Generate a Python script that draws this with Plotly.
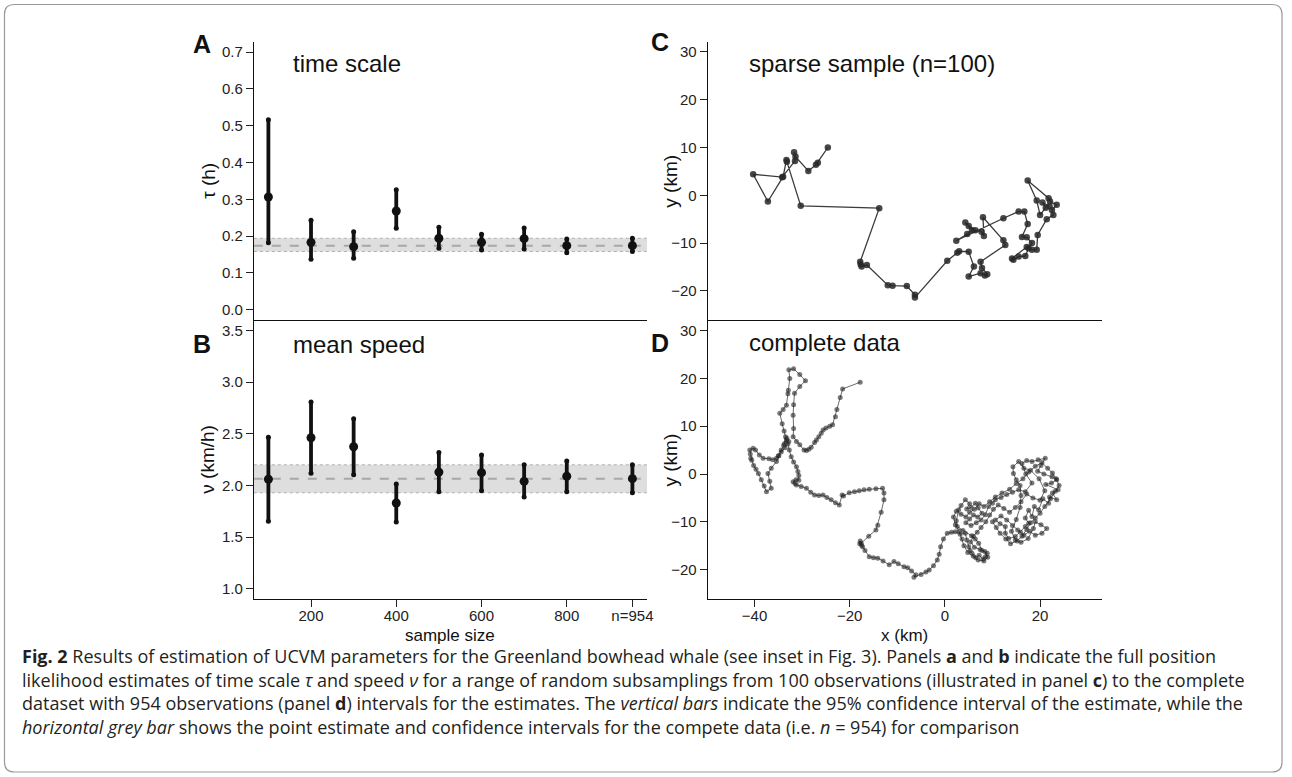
import plotly.graph_objects as go

W, H = 1292, 777

# ---------------- data ----------------
sample_sizes = [100, 200, 300, 400, 500, 600, 700, 800, 954]
x_tick_vals = [200, 400, 600, 800, 954]
x_tick_text = ["200", "400", "600", "800", "n=954"]

tau_est = [0.306, 0.183, 0.171, 0.268, 0.194, 0.183, 0.193, 0.174, 0.174]
tau_lo = [0.182, 0.137, 0.140, 0.221, 0.167, 0.162, 0.165, 0.155, 0.158]
tau_hi = [0.516, 0.243, 0.212, 0.326, 0.224, 0.205, 0.222, 0.192, 0.194]

nu_est = [2.06, 2.462, 2.375, 1.831, 2.13, 2.124, 2.04, 2.09, 2.066]
nu_lo = [1.654, 2.118, 2.104, 1.647, 1.94, 1.95, 1.89, 1.94, 1.93]
nu_hi = [2.466, 2.807, 2.645, 2.014, 2.32, 2.295, 2.20, 2.237, 2.20]

tau_ticks = [0.0, 0.1, 0.2, 0.3, 0.4, 0.5, 0.6, 0.7]
nu_ticks = [1.0, 1.5, 2.0, 2.5, 3.0, 3.5]
km_y_ticks = [-20, -10, 0, 10, 20, 30]
km_x_ticks = [-40, -20, 0, 20]

sparse_x = [-24.6, -26.7, -27.1, -28.7, -31.4, -31.7, -31.5, -34.2, -40.3, -37.2,
            -34.0, -33.3, -33.2, -30.3, -13.8, -17.8, -17.7, -17.5, -16.4, -12.0,
            -11.0, -8.0, -6.3, -6.3, 0.5, 2.6, 3.0, 5.0, 6.1, 5.0,
            7.5, 8.4, 8.9, 7.8, 7.5, 12.7, 12.3, 8.0, 8.2, 7.7,
            6.4, 5.0, 4.3, 5.7, 4.7, 2.4, 12.3, 15.5, 16.7, 17.4,
            16.2, 17.2, 18.3, 17.6, 16.9, 15.5, 14.4, 14.1, 17.2, 18.3,
            19.3, 19.5, 21.4, 22.8, 22.5, 23.5, 22.1, 21.8, 17.4, 19.3,
            20.0, 21.2, 20.5, 22.0]
sparse_y = [10.0, 6.8, 6.4, 5.1, 8.1, 9.0, 7.2, 3.8, 4.4, -1.3,
            3.9, 7.4, 7.0, -2.2, -2.7, -13.9, -14.5, -14.9, -14.6, -18.8,
            -18.9, -19.0, -20.8, -21.4, -13.7, -12.0, -11.7, -11.8, -14.9, -17.0,
            -16.3, -16.8, -16.5, -15.2, -13.9, -10.4, -9.4, -4.6, -8.5, -7.6,
            -7.3, -6.4, -5.7, -7.3, -8.1, -9.5, -4.8, -3.4, -3.4, -6.0,
            -8.7, -8.8, -10.0, -11.1, -12.7, -12.8, -13.5, -13.2, -10.8, -11.4,
            -11.4, -8.3, -5.0, -4.1, -3.1, -2.0, -1.3, -0.6, 3.1, -1.1,
            -4.1, -2.6, -1.5, -2.3]

full_x = [-17.8, -21.5, -22.0, -22.7, -23.0, -23.6, -24.2, -25.0, -25.6, -26.0,
          -26.5, -27.0, -27.4, -28.1, -28.6, -29.1, -29.6, -30.5, -31.2, -31.9,
          -31.8, -31.9, -31.8, -31.6, -30.5, -29.3, -30.5, -31.8, -32.8, -32.6,
          -32.9, -33.0, -33.3, -34.0, -34.7, -34.2, -33.8, -33.5, -33.7, -33.2,
          -32.8, -33.6, -34.4, -35.0, -35.4, -36.2, -37.0, -38.2, -39.0, -39.8,
          -40.3, -41.0, -40.9, -40.8, -40.6, -40.2, -39.7, -39.2, -38.6, -38.0,
          -37.5, -36.5, -36.8, -37.2, -36.5, -35.4, -34.9, -34.4, -33.9, -33.3,
          -33.0, -32.7, -32.3, -31.8, -31.2, -30.9, -30.7, -30.7, -31.3, -31.9,
          -31.5, -31.2, -30.2, -29.1, -28.2, -27.4, -26.5, -25.6, -24.8, -23.9,
          -23.0, -22.2, -21.6, -21.3, -20.1, -19.0, -18.0, -17.0, -15.9, -14.5,
          -13.1, -12.8, -12.8, -13.4, -14.1, -14.5, -16.0, -17.6, -17.8, -17.9,
          -17.5, -17.3, -16.8, -15.9, -15.0, -14.1, -13.0, -11.7, -10.7, -9.8,
          -8.6, -7.8, -7.0, -6.1, -6.5, -5.0, -4.0, -3.3, -2.4, -1.6,
          -1.2, -0.9, -0.3, 0.5, 1.4, 2.2, 3.2, 4.3, 4.6, 5.0,
          5.3, 5.7, 6.5, 7.2, 8.0, 8.5, 8.9, 7.8, 7.1, 6.4,
          5.6, 3.8, 2.6, 2.4, 2.9, 3.4, 4.3, 5.2, 4.6, 5.5,
          6.4, 7.0, 7.8, 6.9, 6.0, 5.2, 4.4, 5.5, 6.6, 7.6,
          8.5, 9.2, 10.0, 10.6, 11.8, 13.0, 14.2, 15.5, 16.9, 18.3,
          17.0, 16.2, 17.2, 18.3, 19.6, 21.1, 20.2, 19.5, 20.8, 22.5,
          23.5, 22.4, 21.2, 23.8, 22.6, 23.5, 22.0, 21.8, 20.6, 19.7,
          18.8, 18.3, 17.6, 16.9, 17.6, 16.9, 15.9, 14.8, 13.4, 12.7,
          12.7, 11.6, 10.6, 11.8, 13.0, 14.2, 15.3, 16.6, 17.8, 19.0,
          20.4, 21.4, 20.2, 19.0, 18.6, 17.5, 16.0, 14.8, 14.0, 15.0,
          15.8, 16.0, 15.8, 15.0, 14.4, 14.3, 15.5, 16.6, 18.0, 19.8,
          21.0, 20.0, 18.5, 17.2, 16.0, 14.8, 13.6, 12.4, 11.2, 10.2,
          9.4, 8.6, 7.6, 6.8, 6.0, 5.4, 6.2, 7.4, 8.4, 9.0,
          8.2, 7.0, 6.0, 4.8, 4.0, 3.6, 3.0, 2.2, 1.8, 2.4,
          3.4, 4.4, 5.2, 6.2, 7.2, 8.2, 9.4, 10.6, 12.0, 13.6,
          15.0, 16.4, 17.6, 19.0, 20.4, 21.6, 22.6, 23.4, 24.0, 23.2,
          22.2, 21.0, 20.0, 19.0, 18.0, 17.2, 16.2, 15.2, 13.8, 12.8,
          11.6, 10.8, 10.0]
full_y = [19.2, 17.8, 16.0, 13.5, 12.0, 10.3, 10.0, 9.6, 9.2, 8.5,
          7.8, 7.1, 6.6, 5.6, 5.2, 4.9, 5.0, 6.1, 6.8, 7.8,
          9.5, 12.3, 14.5, 16.9, 18.3, 19.5, 20.8, 22.0, 21.8, 20.0,
          17.5, 16.8, 14.4, 13.5, 12.7, 10.5, 9.0, 7.8, 6.4, 7.5,
          6.8, 5.5, 4.6, 3.8, 3.3, 3.0, 3.2, 3.3, 4.0, 5.0,
          5.4, 5.0, 4.2, 3.3, 2.9, 1.8, 1.0, 0.1, -1.2, -2.5,
          -3.7, -3.0, -1.5, 0.1, 1.2, 2.6, 3.8, 5.0, 6.0, 7.1,
          6.3, 5.0, 3.6, 2.5, 1.5, 0.5, -0.3, -1.3, -1.2, -1.6,
          -2.0, -2.3, -2.6, -3.0, -3.8, -4.4, -4.5, -4.4, -4.9, -5.4,
          -6.0, -6.5, -4.4, -4.6, -3.9, -3.7, -3.5, -3.3, -3.2, -3.1,
          -3.0, -4.0, -5.4, -8.0, -10.7, -11.7, -13.0, -14.5, -14.0, -14.6,
          -14.9, -15.2, -16.0, -17.3, -17.5, -17.6, -18.2, -19.0, -18.3, -18.8,
          -19.4, -19.6, -20.3, -21.1, -21.6, -21.0, -20.5, -20.1, -19.2, -18.0,
          -16.8, -15.2, -13.6, -12.4, -12.2, -12.1, -12.6, -12.4, -13.8, -15.2,
          -16.0, -16.6, -17.5, -17.0, -17.8, -17.3, -16.6, -16.0, -14.5, -13.6,
          -12.9, -11.8, -11.0, -9.8, -7.5, -6.6, -5.4, -6.2, -7.3, -7.0,
          -6.1, -7.1, -8.2, -9.0, -8.6, -9.4, -10.2, -10.8, -10.2, -9.6,
          -8.5, -6.8, -6.1, -5.4, -4.9, -4.3, -3.8, -3.3, -3.7, -1.9,
          0.0, 2.2, 2.8, 2.6, 3.0, 3.3, 1.8, 0.6, 0.0, -0.6,
          -1.2, -1.9, -2.2, -3.3, -4.0, -5.4, -4.8, -6.1, -5.2, -7.5,
          -6.8, -8.9, -7.6, -9.2, -10.3, -11.0, -12.2, -13.1, -13.5, -12.4,
          -11.0, -10.4, -9.6, -8.8, -9.6, -10.8, -11.7, -12.8, -12.0, -12.8,
          -12.4, -11.4, -10.6, -10.0, -11.4, -13.5, -14.3, -13.8, -12.0, -9.5,
          -7.0, -4.5, -2.4, -1.2, 0.1, 1.5, 2.6, 1.2, 0.8, -1.0,
          -3.5, -5.5, -5.0, -4.2, -5.8, -7.0, -8.0, -7.2, -6.5, -7.4,
          -8.6, -10.0, -11.2, -12.2, -13.0, -14.2, -15.3, -15.8, -16.2, -17.4,
          -18.2, -18.0, -17.2, -16.4, -15.0, -13.6, -12.0, -10.6, -9.0, -7.8,
          -8.4, -9.0, -8.0, -7.4, -6.2, -6.8, -5.8, -4.8, -4.0, -3.2,
          -2.0, -1.0, 0.4, 1.6, 2.4, 1.2, 0.2, -1.0, -2.4, -3.6,
          -5.2, -6.8, -8.2, -9.2, -10.2, -11.6, -13.0, -14.0, -14.6, -13.6,
          -12.4, -11.2, -10.0]

# ---------------- layout helpers (page pixel coords -> paper) ----------------
def fx(px):
    return px / W


def fy(py):
    return 1 - py / H


AX_L, AX_R = 255, 650
CD_L, CD_R = 711, 1107
TOP, MID, BOT = 41.7, 320, 599.3

tick_font = dict(family="Liberation Sans, Arial", size=15, color="#222")
text_font = dict(family="Liberation Sans, Arial", color="#111")

fig = go.Figure()

# ---- panel A ----
fig.add_trace(go.Scatter(
    x=sample_sizes, y=tau_est, mode="markers", xaxis="x", yaxis="y",
    marker=dict(size=9, color="#111"),
    error_y=dict(type="data", symmetric=False,
                 array=[h - e for h, e in zip(tau_hi, tau_est)],
                 arrayminus=[e - l for e, l in zip(tau_est, tau_lo)],
                 thickness=3.8, width=0, color="#111"),
    showlegend=False, hoverinfo="skip"))
fig.add_trace(go.Scatter(x=sample_sizes + sample_sizes, y=tau_lo + tau_hi, mode="markers",
                         xaxis="x", yaxis="y", marker=dict(size=5, color="#111"),
                         showlegend=False, hoverinfo="skip"))

# ---- panel B ----
fig.add_trace(go.Scatter(
    x=sample_sizes, y=nu_est, mode="markers", xaxis="x2", yaxis="y2",
    marker=dict(size=9, color="#111"),
    error_y=dict(type="data", symmetric=False,
                 array=[h - e for h, e in zip(nu_hi, nu_est)],
                 arrayminus=[e - l for e, l in zip(nu_est, nu_lo)],
                 thickness=3.8, width=0, color="#111"),
    showlegend=False, hoverinfo="skip"))
fig.add_trace(go.Scatter(x=sample_sizes + sample_sizes, y=nu_lo + nu_hi, mode="markers",
                         xaxis="x2", yaxis="y2", marker=dict(size=5, color="#111"),
                         showlegend=False, hoverinfo="skip"))

# ---- panel C ----
fig.add_trace(go.Scatter(
    x=sparse_x, y=sparse_y, mode="lines+markers", xaxis="x3", yaxis="y3",
    line=dict(color="#3c3c3c", width=1.3),
    marker=dict(size=6.5, color="rgba(40,40,40,0.85)"),
    showlegend=False, hoverinfo="skip"))

# ---- panel D ----
fig.add_trace(go.Scatter(
    x=full_x, y=full_y, mode="lines+markers", xaxis="x4", yaxis="y4",
    line=dict(color="rgba(80,80,80,0.85)", width=1),
    marker=dict(size=5, color="rgba(35,35,35,0.6)"),
    showlegend=False, hoverinfo="skip"))


def yax(dom, rng, ticks, anchor, fmt=None):
    d = dict(domain=dom, range=rng, tickvals=ticks, ticks="outside", ticklen=7,
             tickwidth=1, tickcolor="#222", showline=True, linecolor="#111",
             linewidth=1, showgrid=False, zeroline=False, tickfont=tick_font,
             anchor=anchor, fixedrange=True)
    if fmt:
        d["tickformat"] = fmt
    return d


def xax(dom, rng, anchor, ticks=None, text=None, show_ticks=False):
    d = dict(domain=dom, range=rng, showline=True, linecolor="#111", linewidth=1,
             showgrid=False, zeroline=False, anchor=anchor, fixedrange=True,
             tickfont=tick_font)
    if show_ticks:
        d.update(tickvals=ticks, ticks="outside", ticklen=7, tickwidth=1,
                 tickcolor="#222", ticklabelstandoff=-4)
        if text is not None:
            d.update(ticktext=text)
    else:
        d.update(showticklabels=False, ticks="")
    return d


ab_xrange = [65.8, 988.2]
cd_xrange = [(CD_L - 949.3) / 4.78, (CD_R - 949.3) / 4.78]
c_yrange = [(195.3 - MID) / 4.78, (195.3 - TOP) / 4.78]
d_yrange = [(474 - BOT) / 4.78, (474 - MID) / 4.78]

fig.update_layout(
    width=W, height=H,
    margin=dict(l=0, r=0, t=0, b=0),
    paper_bgcolor="white", plot_bgcolor="white",
    xaxis=xax([fx(AX_L), fx(AX_R)], ab_xrange, "y"),
    yaxis=yax([fy(MID), fy(TOP)], [-0.028, 0.728], tau_ticks, "x", ".1f"),
    xaxis2=xax([fx(AX_L), fx(AX_R)], ab_xrange, "y2", x_tick_vals, x_tick_text, True),
    yaxis2=yax([fy(BOT), fy(MID)], [0.9, 3.6], nu_ticks, "x2", ".1f"),
    xaxis3=xax([fx(CD_L), fx(CD_R)], cd_xrange, "y3"),
    yaxis3=yax([fy(MID), fy(TOP)], c_yrange, km_y_ticks, "x3"),
    xaxis4=xax([fx(CD_L), fx(CD_R)], cd_xrange, "y4", km_x_ticks, None, True),
    yaxis4=yax([fy(BOT), fy(MID)], d_yrange, km_y_ticks, "x4"),
)

shapes = []
# grey confidence bands from the complete-data estimate
for xr, yr, est, lo, hi in [("x domain", "y", tau_est[-1], tau_lo[-1], tau_hi[-1]),
                             ("x2 domain", "y2", nu_est[-1], nu_lo[-1], nu_hi[-1])]:
    shapes.append(dict(type="rect", xref=xr, yref=yr, x0=0, x1=1, y0=lo, y1=hi,
                       fillcolor="#dedede", line=dict(width=0), layer="below"))
    for v in (lo, hi):
        shapes.append(dict(type="line", xref=xr, yref=yr, x0=0, x1=1, y0=v, y1=v,
                           line=dict(color="#b0b0b0", width=1, dash="dot"), layer="below"))
    shapes.append(dict(type="line", xref=xr, yref=yr, x0=0, x1=1, y0=est, y1=est,
                       line=dict(color="#a8a8a8", width=2, dash="dash"), layer="below"))

# rounded frame around whole figure
x0, x1, y0, y1, r = 4.5, 1288, 4.5, 772, 10
path = (f"M {fx(x0 + r)},{fy(y0)} L {fx(x1 - r)},{fy(y0)} Q {fx(x1)},{fy(y0)} {fx(x1)},{fy(y0 + r)} "
        f"L {fx(x1)},{fy(y1 - r)} Q {fx(x1)},{fy(y1)} {fx(x1 - r)},{fy(y1)} "
        f"L {fx(x0 + r)},{fy(y1)} Q {fx(x0)},{fy(y1)} {fx(x0)},{fy(y1 - r)} "
        f"L {fx(x0)},{fy(y0 + r)} Q {fx(x0)},{fy(y0)} {fx(x0 + r)},{fy(y0)} Z")
shapes.append(dict(type="path", xref="paper", yref="paper", path=path,
                   line=dict(color="#9a9a9a", width=1.2)))
fig.update_layout(shapes=shapes)

ann = []


def add_text(px, py, text, size, xanchor="left", bold=False, angle=0, family=None, color="#111"):
    f = dict(text_font)
    f["size"] = size
    f["color"] = color
    if family:
        f["family"] = family
    ann.append(dict(x=fx(px), y=fy(py), xref="paper", yref="paper",
                    text=f"<b>{text}</b>" if bold else text, showarrow=False,
                    xanchor=xanchor, yanchor="middle", textangle=angle, font=f))


# panel letters
add_text(203, 44, "A", 25, "center", bold=True)
add_text(203, 344, "B", 25, "center", bold=True)
add_text(663, 42, "C", 25, "center", bold=True)
add_text(663, 343, "D", 25, "center", bold=True)

# panel titles
add_text(292, 64, "time scale", 24)
add_text(292, 344, "mean speed", 24)
add_text(750, 64, "sparse sample (n=100)", 24)
add_text(750, 343, "complete data", 24)

# axis titles
add_text(210, (TOP + MID) / 2, "τ (h)", 19, "center", angle=-90)
add_text(209, (MID + BOT) / 2, "ν (km/h)", 19, "center", angle=-90)
add_text(674, (TOP + MID) / 2, "y (km)", 19, "center", angle=-90)
add_text(674, (MID + BOT) / 2, "y (km)", 19, "center", angle=-90)
add_text((AX_L + AX_R) / 2, 635, "sample size", 17, "center")
add_text((CD_L + CD_R) / 2, 635, "x (km)", 17, "center")

# caption
cap_font = "Open Sans, Noto Sans, sans-serif"
cap_lines = [
    "<b>Fig. 2</b> Results of estimation of UCVM parameters for the Greenland bowhead whale (see inset in Fig. 3). Panels <b>a</b> and <b>b</b> indicate the full position",
    "likelihood estimates of time scale <i>τ</i> and speed <i>ν</i> for a range of random subsamplings from 100 observations (illustrated in panel <b>c</b>) to the complete",
    "dataset with 954 observations (panel <b>d</b>) intervals for the estimates. The <i>vertical bars</i> indicate the 95% confidence interval of the estimate, while the",
    "<i>horizontal grey bar</i> shows the point estimate and confidence intervals for the compete data (i.e. <i>n</i> = 954) for comparison",
]
for i, line in enumerate(cap_lines):
    add_text(20, 656 + 23.7 * i, line, 18, "left", family=cap_font, color="#231f20")

fig.update_layout(annotations=ann)

fig.write_html("out.html", config={"displayModeBar": False},
               post_script="document.body.style.margin='0';")
